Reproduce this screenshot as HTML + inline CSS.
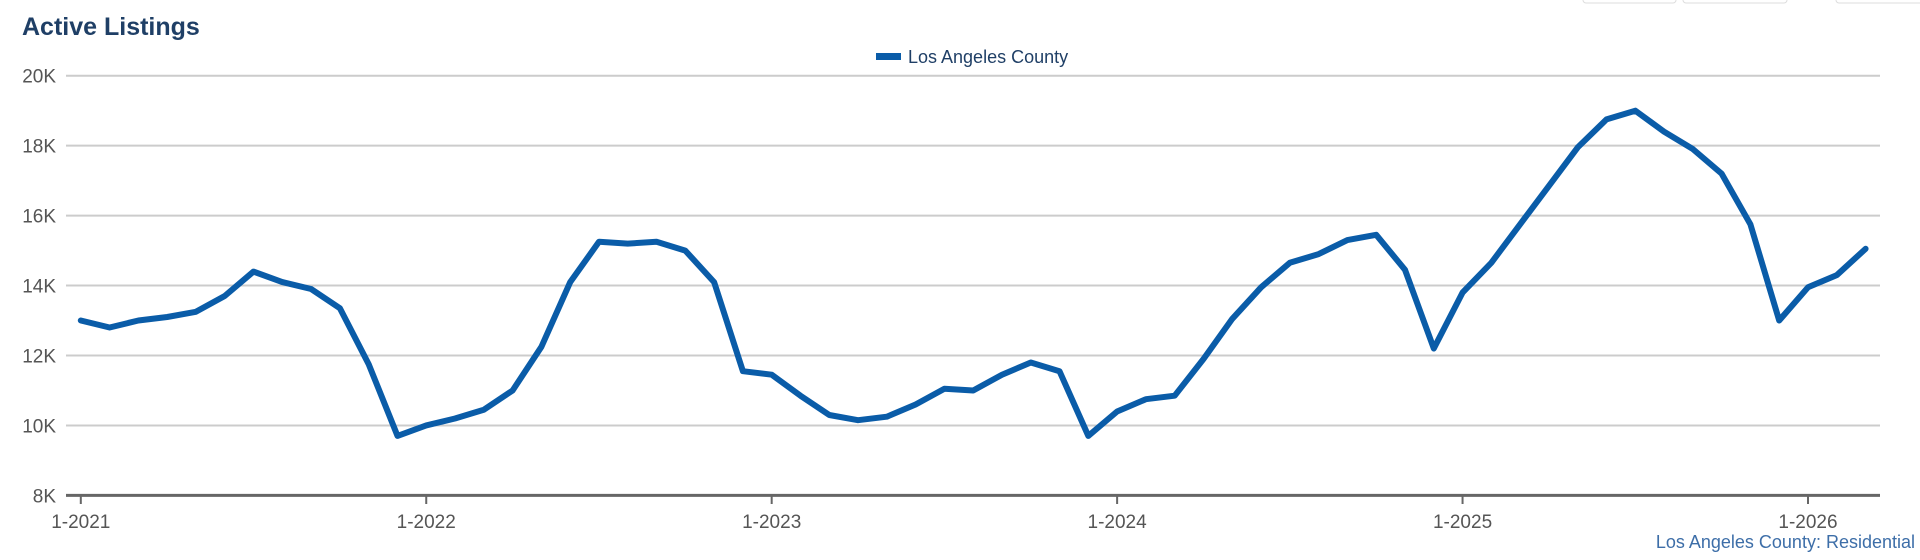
<!DOCTYPE html>
<html><head><meta charset="utf-8"><style>
body{margin:0;background:#fff;width:1920px;height:560px;overflow:hidden;font-family:"Liberation Sans",sans-serif;}
svg{display:block}
</style></head><body>
<svg width="1920" height="560" id="chart">
<rect x="1583" y="-6" width="93" height="9" rx="3" fill="#fff" stroke="#ddd"/>
<rect x="1683" y="-6" width="104" height="9" rx="3" fill="#fff" stroke="#ddd"/>
<rect x="1836" y="-6" width="90" height="9" rx="3" fill="#fff" stroke="#ddd"/>
<text x="22" y="35" font-size="25" font-weight="bold" fill="#1f3f66">Active Listings</text>
<g>
<rect x="876" y="53" width="25" height="7" fill="#0a5ca8"/>
<text x="908" y="63" font-size="18" fill="#1f3f66">Los Angeles County</text>
</g>
<g id="grid"></g><g id="xaxis"></g>
<path id="line" fill="none" stroke="#0a5ca8" stroke-width="6" stroke-linejoin="round" stroke-linecap="round"/>
<text x="1915" y="548" font-size="18" fill="#3d6ea8" text-anchor="end">Los Angeles County: Residential</text>
</svg>
<script>
const yTicks=[8,10,12,14,16,18,20];
const yTickLabels=["8K","10K","12K","14K","16K","18K","20K"];
const xTickLabels=["1-2021","1-2022","1-2023","1-2024","1-2025","1-2026"];
const listings=[13.0,12.8,13.0,13.1,13.25,13.7,14.4,14.1,13.9,13.35,11.75,9.7,
10.0,10.2,10.45,11.0,12.25,14.1,15.25,15.2,15.25,15.0,14.1,11.55,
11.45,10.85,10.3,10.15,10.25,10.6,11.05,11.0,11.45,11.8,11.55,9.7,
10.4,10.75,10.85,11.9,13.05,13.95,14.65,14.9,15.3,15.45,14.45,12.2,
13.8,14.65,15.75,16.85,17.95,18.75,19.0,18.4,17.9,17.2,15.75,13.0,
13.95,14.3,15.05];
const NS="http://www.w3.org/2000/svg";
const x0=80.8,monthW=(1808-80.8)/60,left=66,right=1880;
const X=i=>x0+i*monthW;
const Y=v=>495.4-(v-8)*(495.4-75.7)/12;
const grid=document.getElementById('grid');
yTicks.forEach((t,i)=>{
 const l=document.createElementNS(NS,'line');
 l.setAttribute('x1',left);l.setAttribute('x2',right);
 l.setAttribute('y1',Y(t));l.setAttribute('y2',Y(t));
 l.setAttribute('stroke',i===0?'#666':'#ccc');l.setAttribute('stroke-width',i===0?3:2);
 
 
 grid.appendChild(l);
 const tx=document.createElementNS(NS,'text');
 tx.setAttribute('x',56);tx.setAttribute('y',Y(t)+7);tx.setAttribute('text-anchor','end');
 tx.setAttribute('font-size','19');tx.setAttribute('fill','#555');
 tx.textContent=yTickLabels[i];
 
 
 grid.appendChild(tx);
});
const xa=document.getElementById('xaxis');
xTickLabels.forEach((lab,i)=>{
 const x=X(i*12);
 const l=document.createElementNS(NS,'line');
 l.setAttribute('x1',x);l.setAttribute('x2',x);l.setAttribute('y1',495);l.setAttribute('y2',504);
 l.setAttribute('stroke','#666');l.setAttribute('stroke-width',2);
 
 
 xa.appendChild(l);
 const tx=document.createElementNS(NS,'text');
 tx.setAttribute('x',x);tx.setAttribute('y',528);tx.setAttribute('text-anchor','middle');
 tx.setAttribute('font-size','19');tx.setAttribute('fill','#555');
 tx.textContent=lab;
 
 
 xa.appendChild(tx);
});
document.getElementById('line').setAttribute('d',listings.map((v,i)=>(i?'L':'M')+X(i).toFixed(1)+' '+Y(v).toFixed(1)).join(' '));
</script>
</body></html>
